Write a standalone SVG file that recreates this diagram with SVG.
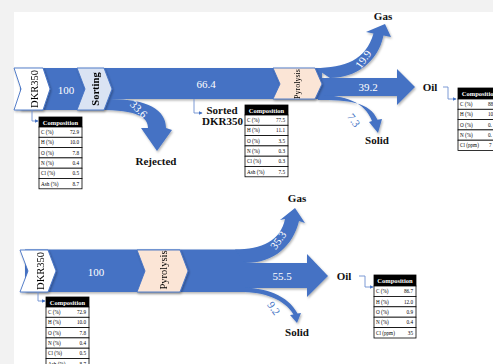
<svg xmlns="http://www.w3.org/2000/svg" width="493" height="364" viewBox="0 0 493 364">
<defs>
<style>
.flow{fill:#4472c4}
.num{font-family:"Liberation Serif","Times New Roman",serif;fill:#fff;font-size:11px;text-anchor:middle;dominant-baseline:central}
.blue{fill:#4472c4}
.lbl{font-family:"Liberation Serif","Times New Roman",serif;font-weight:bold;font-size:11px;fill:#111;text-anchor:middle;dominant-baseline:central}
.ct{font-family:"Liberation Serif","Times New Roman",serif;fill:#000;text-anchor:middle;dominant-baseline:central}
.chev{stroke:#4472c4;stroke-width:0.9}
.conn{fill:none;stroke:#6d8fd0;stroke-width:0.9}
.tb rect{fill:#fff;stroke:#000;stroke-width:0.8}
.tb rect.hd{fill:#000}
.tb text{font-family:"Liberation Serif","Times New Roman",serif;font-size:5.2px;fill:#000;dominant-baseline:central}
.tb text.ht{fill:#fff;font-weight:bold;font-size:6.5px;text-anchor:middle}
.tb text.v{text-anchor:end}
</style>
<marker id="ah" viewBox="0 0 6 6" refX="5" refY="3" markerWidth="4" markerHeight="4" orient="auto"><path d="M0,0 L6,3 L0,6 z" fill="#4472c4"/></marker>
<filter id="sh" x="-10%" y="-10%" width="130%" height="130%"><feDropShadow dx="1" dy="1.5" stdDeviation="0.8" flood-color="#000" flood-opacity="0.3"/></filter>
</defs>

<rect width="493" height="364" fill="#f2f2f2"/>
<rect x="14" y="12" width="479" height="352" fill="#fff"/>

<!-- flows -->
<g id="flows" class="flow" filter="url(#sh)">
  <!-- top diagram -->
  <rect x="20" y="68" width="85" height="42"/>
  <rect x="100" y="68" width="222" height="31"/>
  <path d="M104,99 L110,99 C148,99 166,110 166,128 L172,130 L157,151 L141,128 L148,128 C148,117 137,110 100,110 Z"/>
  <path d="M315,68 C345,68 366,60 373.5,33.5 L366,32 L385,24 L391,37 L383.5,35.5 C378,62 356,78 330,78 Z"/>
  <rect x="318" y="78" width="80" height="18"/>
  <path d="M397,69 L415,87 L397,105 Z"/>
  <path d="M318,95 C345,95 365,102 372,121 L369,122 L378,133 L382,119 L377.5,119.8 C370,102 348,100 318,100 Z"/>
  <!-- bottom diagram -->
  <rect x="25" y="249.5" width="220" height="42.5"/>
  <path d="M235,249.5 C262,249.5 281,240 285,219 L280,220 L295,208 L305,223 L299,221 C293,245 275,263 245,263 Z"/>
  <rect x="240" y="263" width="68" height="25"/>
  <path d="M307,254 L328,276 L307,297 Z"/>
  <path d="M240,287.5 C265,287.5 288,295 297.5,313.6 L301,313 L297,323 L290,315 L293.5,314.4 C284,299 265,292 240,292 Z"/>
</g>

<!-- flow values -->
<g id="flow-values">
  <text class="num" x="66" y="90" font-size="12">100</text>
  <text class="num" x="206" y="84">66.4</text>
  <text class="num" transform="translate(139,109) rotate(45)" font-size="10.5">33.6</text>
  <text class="num" transform="translate(363,59) rotate(-55)">19.9</text>
  <text class="num" x="368" y="87">39.2</text>
  <text class="num blue" transform="translate(354,120) rotate(55)">7.3</text>
  <text class="num" x="96" y="272" font-size="12">100</text>
  <text class="num" transform="translate(278,240) rotate(-55)">35.3</text>
  <text class="num" x="282" y="276">55.5</text>
  <text class="num blue" transform="translate(274,308) rotate(55)">9.2</text>
</g>

<!-- chevron nodes -->
<g id="dkr350-top" filter="url(#sh)">
  <polygon class="chev" points="14,68 43,68 50,89 43,110 14,110 21,89" fill="#fff"/>
  <text class="ct" transform="translate(34,89) rotate(-90)" font-size="10.5">DKR350</text>
</g>
<g id="sorting" filter="url(#sh)">
  <polygon class="chev" points="77,68 104,68 112,89 104,110 77,110 85,89" fill="#dae3f3"/>
  <text class="ct" transform="translate(95,89) rotate(-90)" font-size="10.5" font-weight="bold">Sorting</text>
</g>
<g id="pyrolysis-top" filter="url(#sh)">
  <polygon class="chev" points="273,68 315,68 322,84 315,99 273,99 280,84" fill="#fbe5d6"/>
  <text class="ct" transform="translate(297,84) rotate(-90)" font-size="8">Pyrolysis</text>
</g>
<g id="dkr350-bottom" filter="url(#sh)">
  <polygon class="chev" points="20,250 48,250 56,271 48,292 20,292 28,271" fill="#fff"/>
  <text class="ct" transform="translate(40,271) rotate(-90)" font-size="10.5">DKR350</text>
</g>
<g id="pyrolysis-bottom" filter="url(#sh)">
  <polygon class="chev" points="137,250 180,250 188,271 180,292 137,292 145,271" fill="#fbe5d6"/>
  <text class="ct" transform="translate(163,270) rotate(-90)" font-size="10.5">Pyrolysis</text>
</g>

<!-- product labels -->
<g id="rejected"><text class="lbl" x="156" y="161" font-size="12">Rejected</text></g>
<g id="sorted-dkr350"><text class="lbl" x="222" y="110">Sorted</text><text class="lbl" x="222.5" y="121">DKR350</text></g>
<g id="gas-top"><text class="lbl" x="383" y="16">Gas</text></g>
<g id="oil-top"><text class="lbl" x="430" y="87">Oil</text></g>
<g id="solid-top"><text class="lbl" x="377" y="140">Solid</text></g>
<g id="gas-bottom"><text class="lbl" x="297" y="198">Gas</text></g>
<g id="oil-bottom"><text class="lbl" x="344" y="276">Oil</text></g>
<g id="solid-bottom"><text class="lbl" x="297" y="332">Solid</text></g>

<!-- connectors -->
<g id="connectors">
  <path class="conn" d="M32,110 V121 H38" marker-end="url(#ah)"/>
  <path class="conn" d="M194,99 V113 H202" marker-end="url(#ah)"/>
  <path class="conn" d="M443,87 H448 V99 H456" marker-end="url(#ah)"/>
  <path class="conn" d="M38,292 V301 H45" marker-end="url(#ah)"/>
  <path class="conn" d="M359,276 H365 V287 H373" marker-end="url(#ah)"/>
</g>

<!-- composition tables -->
<g id="table-dkr350-top" class="tb" transform="translate(39,117)">
  <rect class="hd" x="0" y="0" width="43" height="10"/>
  <text class="ht" x="21.5" y="5">Composition</text>
  <rect x="0" y="10" width="43" height="10.3"/><text x="2" y="15.15">C (%)</text><text class="v" x="40" y="15.15">72.9</text>
  <rect x="0" y="20.3" width="43" height="10.3"/><text x="2" y="25.45">H (%)</text><text class="v" x="40" y="25.45">10.0</text>
  <rect x="0" y="30.6" width="43" height="10.3"/><text x="2" y="35.75">O (%)</text><text class="v" x="40" y="35.75">7.8</text>
  <rect x="0" y="40.9" width="43" height="10.3"/><text x="2" y="46.05">N (%)</text><text class="v" x="40" y="46.05">0.4</text>
  <rect x="0" y="51.2" width="43" height="10.3"/><text x="2" y="56.35">Cl (%)</text><text class="v" x="40" y="56.35">0.5</text>
  <rect x="0" y="61.5" width="43" height="10.3"/><text x="2" y="66.65">Ash (%)</text><text class="v" x="40" y="66.65">8.7</text>
</g>
<g id="table-sorted" class="tb" transform="translate(245,105)">
  <rect class="hd" x="0" y="0" width="43" height="10"/>
  <text class="ht" x="21.5" y="5">Composition</text>
  <rect x="0" y="10" width="43" height="10.3"/><text x="2" y="15.15">C (%)</text><text class="v" x="40" y="15.15">77.5</text>
  <rect x="0" y="20.3" width="43" height="10.3"/><text x="2" y="25.45">H (%)</text><text class="v" x="40" y="25.45">11.1</text>
  <rect x="0" y="30.6" width="43" height="10.3"/><text x="2" y="35.75">O (%)</text><text class="v" x="40" y="35.75">3.5</text>
  <rect x="0" y="40.9" width="43" height="10.3"/><text x="2" y="46.05">N (%)</text><text class="v" x="40" y="46.05">0.3</text>
  <rect x="0" y="51.2" width="43" height="10.3"/><text x="2" y="56.35">Cl (%)</text><text class="v" x="40" y="56.35">0.3</text>
  <rect x="0" y="61.5" width="43" height="10.3"/><text x="2" y="66.65">Ash (%)</text><text class="v" x="40" y="66.65">7.5</text>
</g>
<g id="table-oil-top" class="tb" transform="translate(458,88)">
  <rect class="hd" x="0" y="0" width="43" height="11"/>
  <text class="ht" x="21.5" y="5.5">Composition</text>
  <rect x="0" y="11" width="43" height="10.3"/><text x="2" y="16.15">C (%)</text><text x="30" y="16.15">88</text>
  <rect x="0" y="21.3" width="43" height="10.3"/><text x="2" y="26.45">H (%)</text><text x="30" y="26.45">10</text>
  <rect x="0" y="31.6" width="43" height="10.3"/><text x="2" y="36.75">O (%)</text><text x="30" y="36.75">0.</text>
  <rect x="0" y="41.9" width="43" height="10.3"/><text x="2" y="47.05">N (%)</text><text x="30" y="47.05">0.</text>
  <rect x="0" y="52.2" width="43" height="10.3"/><text x="2" y="57.35">Cl (ppm)</text><text x="31" y="57.35">7</text>
</g>
<g id="table-dkr350-bottom" class="tb" transform="translate(46,297)">
  <rect class="hd" x="0" y="0" width="43" height="10"/>
  <text class="ht" x="21.5" y="5">Composition</text>
  <rect x="0" y="10" width="43" height="10.3"/><text x="2" y="15.15">C (%)</text><text class="v" x="40" y="15.15">72.9</text>
  <rect x="0" y="20.3" width="43" height="10.3"/><text x="2" y="25.45">H (%)</text><text class="v" x="40" y="25.45">10.0</text>
  <rect x="0" y="30.6" width="43" height="10.3"/><text x="2" y="35.75">O (%)</text><text class="v" x="40" y="35.75">7.8</text>
  <rect x="0" y="40.9" width="43" height="10.3"/><text x="2" y="46.05">N (%)</text><text class="v" x="40" y="46.05">0.4</text>
  <rect x="0" y="51.2" width="43" height="10.3"/><text x="2" y="56.35">Cl (%)</text><text class="v" x="40" y="56.35">0.5</text>
  <rect x="0" y="61.5" width="43" height="10.3"/><text x="2" y="66.65">Ash (%)</text><text class="v" x="40" y="66.65">8.7</text>
</g>
<g id="table-oil-bottom" class="tb" transform="translate(374,275)">
  <rect class="hd" x="0" y="0" width="42" height="11"/>
  <text class="ht" x="21" y="5.5">Composition</text>
  <rect x="0" y="11" width="42" height="10.4"/><text x="2" y="16.2">C (%)</text><text class="v" x="39" y="16.2">86.7</text>
  <rect x="0" y="21.4" width="42" height="10.4"/><text x="2" y="26.6">H (%)</text><text class="v" x="39" y="26.6">12.0</text>
  <rect x="0" y="31.8" width="42" height="10.4"/><text x="2" y="37">O (%)</text><text class="v" x="39" y="37">0.9</text>
  <rect x="0" y="42.2" width="42" height="10.4"/><text x="2" y="47.4">N (%)</text><text class="v" x="39" y="47.4">0.4</text>
  <rect x="0" y="52.6" width="42" height="10.4"/><text x="2" y="57.8">Cl (ppm)</text><text class="v" x="39" y="57.8">35</text>
</g>
</svg>
